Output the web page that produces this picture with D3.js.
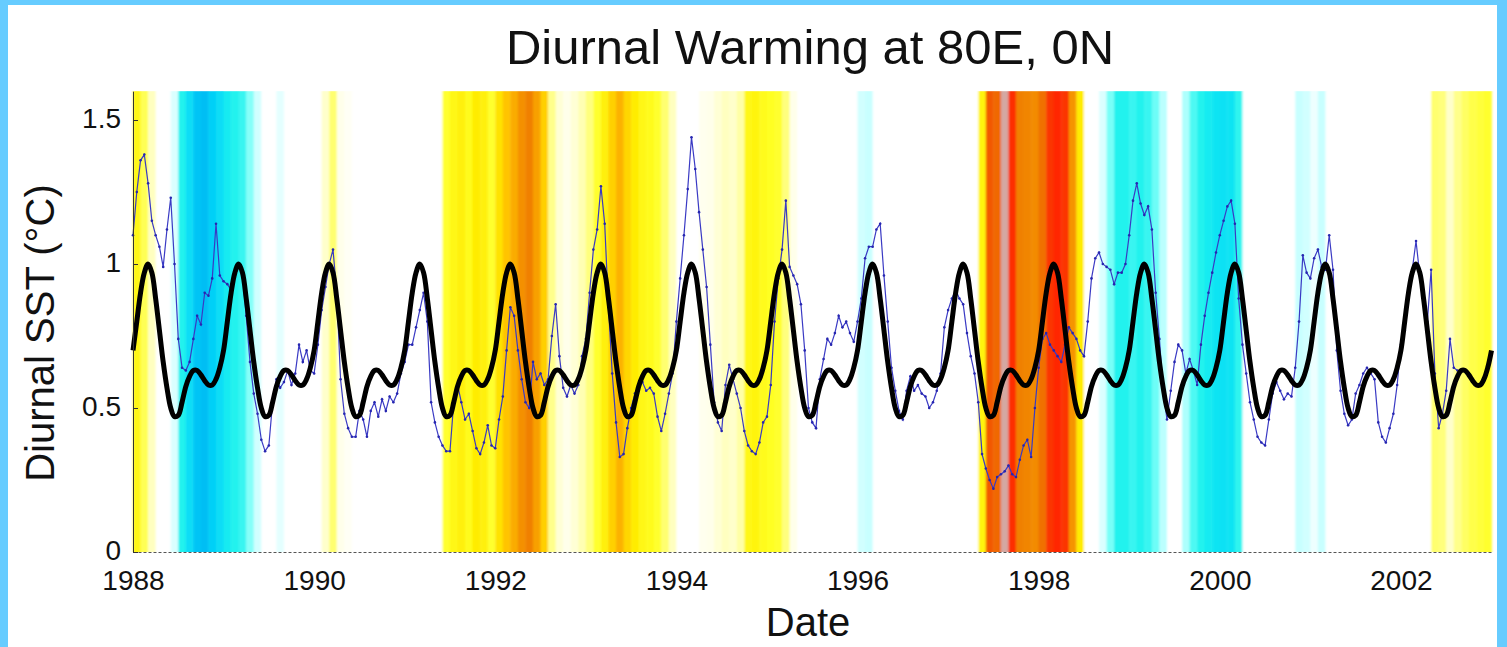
<!DOCTYPE html>
<html>
<head>
<meta charset="utf-8">
<script src="https://cdn.jsdelivr.net/npm/d3@7"></script>
<style>
    body { margin: 0; background: #66ccff; }
    svg { display: block; }
    text { font-family: 'Liberation Sans', Arial, Helvetica, sans-serif; fill: #111; }
</style>
</head>
<body>
<svg width="1507" height="647"></svg>
<script>
// ENSO index per month, one array per year (Jan..Dec); null = missing month
var enso1988 = [1.0, 0.7, 0.3, 0, 0, -0.2, -1.0, -1.3, -1.7, -1.8, -1.5, -1.3];
var enso1989 = [-1.1, -1.0, -0.9, -0.55, -0.25, 0, 0, -0.15, 0, 0, 0, 0];
var enso1990 = [0, 0.25, 0.6, 0.1, 0.05, 0, 0, 0, 0, 0, 0, 0];
var enso1991 = [0, 0, 0, 0, 0, 0.85, 1.0, 1.1, 0.95, 1.15, 1.1, 0.85];
var enso1992 = [1.25, 1.5, 1.7, 1.95, 2.1, 1.8, 1.4, 0.5, 0.2, 0.1, 0.2, 0.35];
var enso1993 = [0.55, 0.85, 1.1, 1.4, 1.65, 1.35, 1.15, 1.0, 0.95, 0.85, 0.6, 0.3];
var enso1994 = [0, 0, 0, 0.08, 0.1, 0.2, 0.3, 0.25, 0.4, 1.0, 1.05, 0.95];
var enso1995 = [0.9, 0.85, 0.55, 0.1, 0, 0, 0, 0, 0, 0, 0, 0];
var enso1996 = [-0.25, -0.3, 0, 0, 0, 0, 0, 0, 0, 0, 0, 0];
var enso1997 = [0, 0, 0, 0, 1.05, 2.55, 2.4, null, 2.85, 2.1, 2.05, 2.0];
var enso1998 = [2.3, 2.8, 2.9, 2.8, 1.9, 1.15, 0, 0, -0.2, -0.6, -1.0, -1.0];
var enso1999 = [-0.9, -1.0, -0.9, -0.65, -0.35, 0, 0, -0.4, -0.8, -1.0, -1.1, -1.2];
var enso2000 = [-1.25, -1.2, -0.95, 0, 0, 0, 0, 0, 0, 0, -0.3, -0.25];
var enso2001 = [-0.1, -0.3, 0, 0, 0, 0, 0, 0, 0, 0, 0, 0];
var enso2002 = [0, 0, 0, 0, 0.6, 0.55, 0.25, 0.5, 0.65, 0.75, 0.8, 0.85];

// Observed diurnal SST, twice a month (1st and 16th), one array per year
var sst1988 = [1.10, 1.25, 1.36, 1.38, 1.28, 1.15, 1.10, 1.06, 0.99, 1.12, 1.23, 1.00, 0.74, 0.64, 0.63, 0.66, 0.74, 0.82, 0.79, 0.90, 0.89, 0.95, 1.14, 0.96];
var sst1989 = [0.94, 0.93, 0.91, 0.96, 0.99, 0.97, 0.82, 0.66, 0.55, 0.48, 0.39, 0.35, 0.37, 0.52, 0.60, 0.57, 0.59, 0.63, 0.58, 0.62, 0.72, 0.66, 0.70, 0.63];
var sst1990 = [0.62, 0.72, 0.84, 0.92, 1.00, 1.05, 0.90, 0.60, 0.48, 0.43, 0.40, 0.40, 0.49, 0.46, 0.40, 0.49, 0.52, 0.47, 0.53, 0.49, 0.54, 0.52, 0.55, 0.62];
var sst1991 = [0.66, 0.72, 0.72, 0.78, 0.84, 0.90, 0.80, 0.52, 0.45, 0.40, 0.37, 0.35, 0.35, 0.52, 0.58, 0.52, 0.46, 0.48, 0.42, 0.36, 0.34, 0.38, 0.44, 0.37];
var sst1992 = [0.36, 0.46, 0.54, 0.70, 0.85, 0.82, 0.70, 0.60, 0.52, 0.50, 0.66, 0.60, 0.62, 0.58, 0.60, 0.75, 0.86, 0.68, 0.57, 0.54, 0.58, 0.55, 0.58, 0.68];
var sst1993 = [0.74, 0.90, 1.05, 1.12, 1.27, 1.14, 0.85, 0.62, 0.45, 0.33, 0.34, 0.43, 0.50, 0.55, 0.58, 0.59, 0.56, 0.57, 0.55, 0.47, 0.42, 0.48, 0.55, 0.62];
var sst1994 = [0.80, 0.95, 1.10, 1.26, 1.44, 1.33, 1.18, 1.05, 0.92, 0.72, 0.52, 0.45, 0.42, 0.58, 0.65, 0.60, 0.55, 0.50, 0.42, 0.37, 0.35, 0.34, 0.38, 0.45];
var sst1995 = [0.47, 0.58, 0.80, 0.95, 1.05, 1.22, 0.99, 0.96, 0.93, 0.86, 0.70, 0.50, 0.45, 0.43, 0.60, 0.67, 0.74, 0.72, 0.76, 0.82, 0.78, 0.80, 0.76, 0.73];
var sst1996 = [0.80, 0.88, 1.02, 1.06, 1.06, 1.12, 1.14, 0.96, 0.80, 0.64, 0.56, 0.49, 0.46, 0.56, 0.61, 0.56, 0.58, 0.55, 0.54, 0.50, 0.52, 0.56, 0.62, 0.78];
var sst1997 = [0.84, 0.88, 0.91, 0.88, 0.86, 0.76, 0.68, 0.62, 0.52, 0.34, 0.29, 0.25, 0.22, 0.26, 0.27, 0.28, 0.30, 0.27, 0.26, 0.32, 0.37, 0.39, 0.33, 0.50];
var sst1998 = [0.64, 0.74, 0.76, 0.72, 0.70, 0.68, 0.66, 0.72, 0.78, 0.76, 0.74, 0.70, 0.68, 0.80, 0.95, 1.02, 1.04, 1.00, 0.99, 0.98, 0.93, 0.97, 0.97, 1.00];
var sst1999 = [1.10, 1.22, 1.28, 1.21, 1.17, 1.20, 1.12, 0.90, 0.74, 0.56, 0.46, 0.56, 0.66, 0.72, 0.70, 0.62, 0.67, 0.63, 0.58, 0.72, 0.82, 0.90, 0.97, 1.04];
var sst2000 = [1.10, 1.15, 1.20, 1.22, 1.14, 0.88, 0.72, 0.62, 0.52, 0.46, 0.40, 0.38, 0.37, 0.46, 0.55, 0.59, 0.56, 0.53, 0.55, 0.54, 0.64, 0.80, 1.03, 0.97];
var sst2001 = [0.95, 1.02, 1.05, 0.99, 0.98, 1.10, 0.98, 0.70, 0.56, 0.48, 0.44, 0.46, 0.55, 0.58, 0.62, 0.64, 0.62, 0.60, 0.45, 0.40, 0.38, 0.43, 0.48, 0.58];
var sst2002 = [0.72, 0.77, 0.88, 0.98, 1.08, 0.96, 0.86, 0.80, 0.98, 0.62, 0.43, 0.48, 0.56, 0.74, 0.64, 0.63];

// Mean seasonal cycle, twice a month, repeated every year
var climatology = [0.70, 0.80, 0.90, 0.97, 1.00, 0.97, 0.88, 0.77, 0.66, 0.57, 0.50, 0.47, 0.475, 0.52, 0.575, 0.61, 0.63, 0.63, 0.615, 0.595, 0.58, 0.58, 0.60, 0.64];

var years = d3.range(1988, 2003);
var ensoByYear = [enso1988, enso1989, enso1990, enso1991, enso1992, enso1993, enso1994, enso1995,
    enso1996, enso1997, enso1998, enso1999, enso2000, enso2001, enso2002];
var sstByYear = [sst1988, sst1989, sst1990, sst1991, sst1992, sst1993, sst1994, sst1995,
    sst1996, sst1997, sst1998, sst1999, sst2000, sst2001, sst2002];

var xTicks = [1988, 1990, 1992, 1994, 1996, 1998, 2000, 2002];
var yTicks = [0, 0.5, 1, 1.5];

// Flatten the per-year arrays into {t, v} records
var ensoMonths = [];
var sstSeries = [];
var climSeries = [];
years.forEach(function(yr, i) {
    ensoByYear[i].forEach(function(v, m) {
        ensoMonths.push({t0: yr + m / 12, t1: yr + (m + 1) / 12, v: v});
    });
    sstByYear[i].forEach(function(v, k) {
        sstSeries.push({t: yr + k / 24, v: v});
    });
    climatology.forEach(function(v, k) {
        climSeries.push({t: yr + k / 24, v: v});
    });
});
climSeries.push({t: 2003, v: climatology[0]});

var svg = d3.select('svg');
var svgWidth = +svg.attr('width');
var svgHeight = +svg.attr('height');

// white page inside the light blue frame
svg.append('rect')
    .attr('x', 8).attr('y', 5)
    .attr('width', svgWidth - 18).attr('height', svgHeight - 5)
    .attr('fill', '#fff');

var xScale = d3.scaleLinear().domain([1988, 2003]).range([133, 1491.5]);
var yScale = d3.scaleLinear().domain([0, 1.6]).range([552, 91.2]);

// colour map for the ENSO index: cold = cyan/blue, warm = yellow/orange/red
var ensoColor = d3.scaleLinear()
    .domain([-1.8, -1.4, -1.0, -0.6, -0.3, 0, 0.3, 0.6, 0.9, 1.2, 1.5, 1.8, 2.1, 2.5, 2.9])
    .range(['#06bef4', '#00d6f8', '#22f2ee', '#78fff8', '#c8ffff', '#ffffff', '#ffffc0', '#ffff70',
        '#ffff20', '#ffe800', '#ffc400', '#f8a000', '#f08000', '#f06000', '#ff2800'])
    .clamp(true);

var defs = svg.append('defs');
defs.append('filter').attr('id', 'soft')
    .attr('x', '-2%').attr('width', '104%')
    .append('feGaussianBlur').attr('stdDeviation', '1.2 0');

var bandG = svg.append('g').attr('filter', 'url(#soft)');
bandG.selectAll('.band').data(ensoMonths)
    .enter().append('rect')
    .attr('class', 'band')
    .attr('x', function(d) { return xScale(d.t0); })
    .attr('width', function(d) { return xScale(d.t1) - xScale(d.t0) + 0.4; })
    .attr('y', yScale(1.6))
    .attr('height', yScale(0) - yScale(1.6))
    .attr('fill', function(d) { return d.v === null ? '#d4a8a2' : ensoColor(d.v); });

// observed series (thin blue)
var line = d3.line()
    .x(function(d) { return xScale(d.t); })
    .y(function(d) { return yScale(d.v); });

svg.append('path')
    .datum(sstSeries)
    .attr('d', line)
    .attr('fill', 'none')
    .attr('stroke', '#3a3ac4')
    .attr('stroke-width', 1.2);

svg.selectAll('.dot').data(sstSeries)
    .enter().append('circle')
    .attr('class', 'dot')
    .attr('cx', function(d) { return xScale(d.t); })
    .attr('cy', function(d) { return yScale(d.v); })
    .attr('r', 1.3)
    .attr('fill', '#2626b0');

// climatology (thick black)
svg.append('path')
    .datum(climSeries)
    .attr('d', line.curve(d3.curveCatmullRom))
    .attr('fill', 'none')
    .attr('stroke', '#000')
    .attr('stroke-width', 5)
    .attr('stroke-linejoin', 'round');

// axes
var xAxis = d3.axisBottom(xScale).tickValues(xTicks).tickFormat(d3.format('d'))
    .tickSize(0).tickPadding(18);
var xAxisG = svg.append('g')
    .attr('transform', 'translate(0,' + yScale(0) + ')')
    .call(xAxis);
xAxisG.select('.domain')
    .attr('stroke', '#555')
    .attr('stroke-dasharray', '3,2');
xAxisG.selectAll('text').style('font-size', '28px');

var yAxis = d3.axisLeft(yScale).tickValues(yTicks).tickFormat(d3.format('~g'))
    .tickSizeInner(-5).tickSizeOuter(0).tickPadding(12);
var yAxisG = svg.append('g')
    .attr('transform', 'translate(' + xScale(1988) + ',0)')
    .call(yAxis);
yAxisG.select('.domain').attr('stroke', '#333');
yAxisG.selectAll('.tick line').attr('stroke', '#333');
yAxisG.selectAll('text').attr('dy', '0.25em').style('font-size', '28px');

// titles
svg.append('text')
    .attr('x', 810).attr('y', 64)
    .attr('text-anchor', 'middle')
    .style('font-size', '49px')
    .text('Diurnal Warming at 80E, 0N');

svg.append('text')
    .attr('transform', 'translate(54,333) rotate(-90)')
    .attr('text-anchor', 'middle')
    .style('font-size', '40px')
    .text('Diurnal SST (°C)');

svg.append('text')
    .attr('x', 808).attr('y', 636)
    .attr('text-anchor', 'middle')
    .style('font-size', '40px')
    .text('Date');
</script>
</body>
</html>
